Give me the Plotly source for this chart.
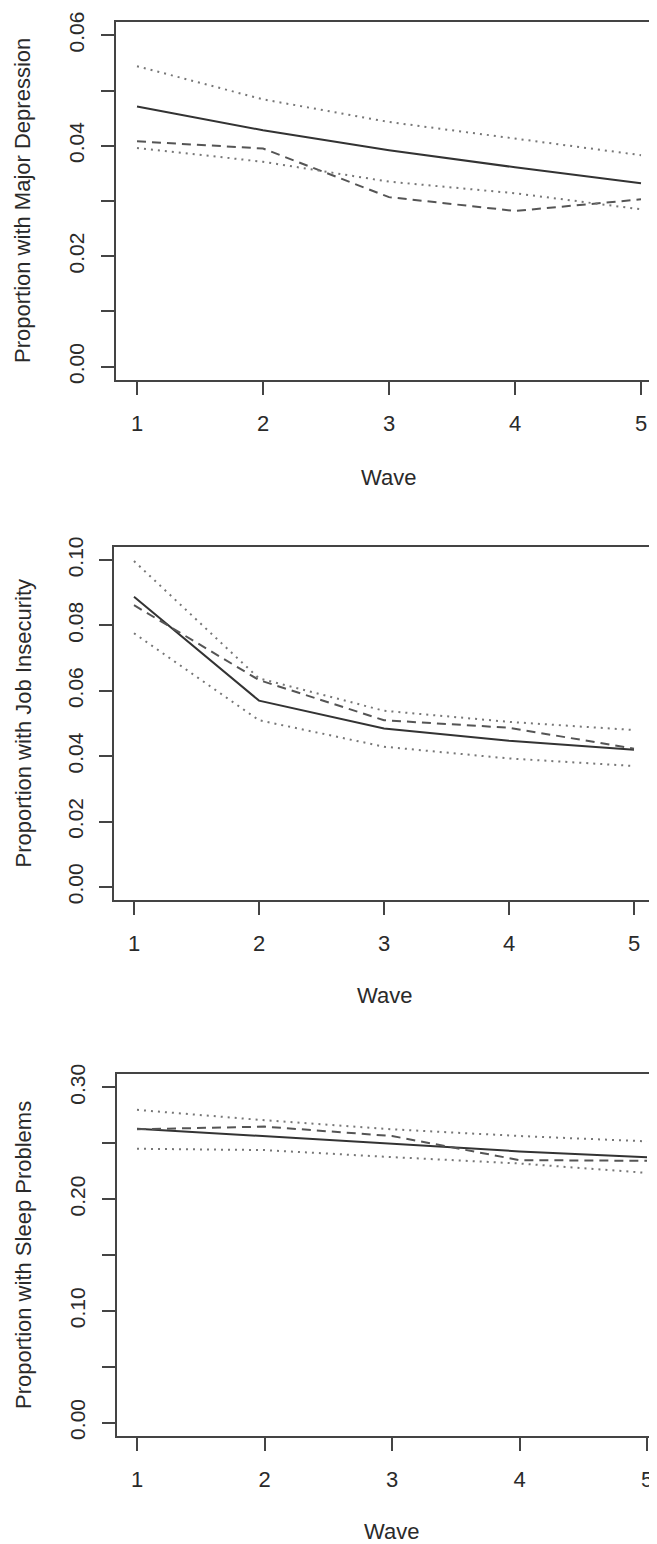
import plotly.graph_objects as go

# The page body has an 8px default margin, so the figure is drawn 8px in from
# the top-left corner; all pixel geometry below is in page pixels minus OFF.
OFF = 8
W, H = 657 - OFF, 1544 - OFF

waves = [1, 2, 3, 4, 5]

# Panel 1: Major Depression
dep_est = [0.0471, 0.0428, 0.0392, 0.0361, 0.0332]
dep_obs = [0.0408, 0.0395, 0.0307, 0.0282, 0.0303]
dep_upper = [0.0544, 0.0484, 0.0443, 0.0413, 0.0383]
dep_lower = [0.0396, 0.0371, 0.0335, 0.0314, 0.0285]

# Panel 2: Job Insecurity
job_est = [0.0888, 0.0570, 0.0485, 0.0447, 0.0420]
job_obs = [0.0862, 0.0633, 0.0510, 0.0487, 0.0423]
job_upper = [0.0997, 0.0638, 0.0539, 0.0505, 0.0480]
job_lower = [0.0776, 0.0510, 0.0429, 0.0393, 0.0370]

# Panel 3: Sleep Problems
slp_est = [0.2631, 0.2565, 0.2493, 0.2427, 0.2376]
slp_obs = [0.2625, 0.2649, 0.2565, 0.2349, 0.2343]
slp_upper = [0.2799, 0.2706, 0.2625, 0.2565, 0.2517]
slp_lower = [0.2451, 0.2439, 0.2376, 0.2319, 0.2235]

y_titles = ["Proportion with Major Depression",
            "Proportion with Job Insecurity",
            "Proportion with Sleep Problems"]
x_title = "Wave"

dep_ticks = [0.00, 0.01, 0.02, 0.03, 0.04, 0.05, 0.06]
dep_labels = ["0.00", "", "0.02", "", "0.04", "", "0.06"]
job_ticks = [0.00, 0.02, 0.04, 0.06, 0.08, 0.10]
job_labels = ["0.00", "0.02", "0.04", "0.06", "0.08", "0.10"]
slp_ticks = [0.00, 0.05, 0.10, 0.15, 0.20, 0.25, 0.30]
slp_labels = ["0.00", "", "0.10", "", "0.20", "", "0.30"]

FONT = "Liberation Sans, Arial, Helvetica, sans-serif"
TXT = "#2a2a2a"
AX = "#444444"

# panel geometry in page pixels
panels = [
    dict(series=(dep_est, dep_obs, dep_upper, dep_lower), ticks=dep_ticks, labels=dep_labels,
         left=115.5, right=657, top=22, bottom=380, x1=137, x5=641, yr=[-0.0024, 0.0624],
         mirror_y=False, wave_y=477),
    dict(series=(job_est, job_obs, job_upper, job_lower), ticks=job_ticks, labels=job_labels,
         left=114, right=654, top=547, bottom=900, x1=134, x5=634, yr=[-0.004, 0.104],
         mirror_y=True, wave_y=995),
    dict(series=(slp_est, slp_obs, slp_upper, slp_lower), ticks=slp_ticks, labels=slp_labels,
         left=116.5, right=657, top=1074, bottom=1436, x1=137, x5=647, yr=[-0.012, 0.312],
         mirror_y=False, wave_y=1531),
]

fig = go.Figure()
layout = dict(width=W, height=H, margin=dict(l=0, r=0, t=0, b=0, autoexpand=False),
              paper_bgcolor="white", plot_bgcolor="white", showlegend=False,
              font=dict(family=FONT, color=TXT, size=22), annotations=[])

styles = [
    dict(color="#333333", width=2, dash="solid"),
    dict(color="#555555", width=2, dash="9px,6px"),
    dict(color="#777777", width=2, dash="2px,5px"),
    dict(color="#777777", width=2, dash="2px,5px"),
]


def px_x(v):
    return (v - OFF) / W


def px_y(v):
    return 1 - (v - OFF) / H


for i, p in enumerate(panels):
    n = "" if i == 0 else str(i + 1)
    xa, ya = "x" + n, "y" + n
    for s, st in zip(p["series"], styles):
        fig.add_trace(go.Scatter(x=waves, y=s, mode="lines", line=st, xaxis=xa, yaxis=ya,
                                 hoverinfo="skip"))
    ppu = (p["x5"] - p["x1"]) / 4.0
    xr = [1 - (p["x1"] - p["left"]) / ppu, 1 + (p["right"] - p["x1"]) / ppu]
    layout["xaxis" + n] = dict(
        domain=[px_x(p["left"]), min(1.0, px_x(p["right"]))], range=xr, anchor=ya,
        tickvals=waves, ticktext=[str(w) for w in waves],
        ticks="outside", ticklen=13, tickwidth=2, tickcolor=AX,
        showline=True, linecolor=AX, linewidth=2, mirror=True,
        showgrid=False, zeroline=False, ticklabelstandoff=10,
        tickfont=dict(size=22, color=TXT, family=FONT), fixedrange=True)
    layout["yaxis" + n] = dict(
        domain=[px_y(p["bottom"]), px_y(p["top"])], range=p["yr"], anchor=xa,
        tickvals=p["ticks"], ticktext=p["labels"], tickangle=-90,
        ticks="outside", ticklen=13, tickwidth=2, tickcolor=AX,
        showline=True, linecolor=AX, linewidth=2, mirror=p["mirror_y"],
        showgrid=False, zeroline=False, ticklabelstandoff=8,
        tickfont=dict(size=21, color=TXT, family=FONT), fixedrange=True)
    layout["annotations"].append(dict(
        text=y_titles[i], xref="paper", yref="paper", x=px_x(23),
        y=px_y((p["top"] + p["bottom"]) / 2), textangle=-90, showarrow=False,
        xanchor="center", yanchor="middle", font=dict(size=22, color=TXT, family=FONT)))
    box_right = p["x1"] + (p["x5"] - p["x1"]) * 1.04
    layout["annotations"].append(dict(
        text=x_title, xref="paper", yref="paper",
        x=px_x((p["left"] + box_right) / 2),
        y=px_y(p["wave_y"]), showarrow=False,
        xanchor="center", yanchor="middle", font=dict(size=22, color=TXT, family=FONT)))

fig.update_layout(**layout)
fig.write_html("out.html")
